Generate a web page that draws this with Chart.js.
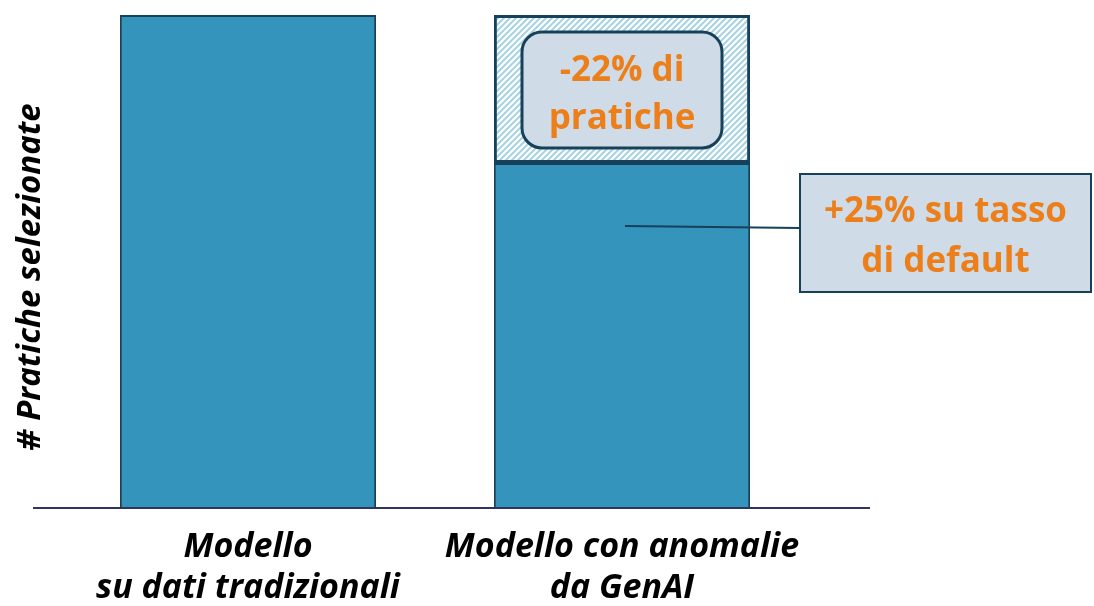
<!DOCTYPE html>
<html>
<head>
<meta charset="utf-8">
<script src="https://cdn.jsdelivr.net/npm/chart.js@4"></script>
<style>
  body { margin: 0; background: #fff; }
  #wrap { width: 1094px; height: 606px; }
</style>
</head>
<body>
<div id="wrap"><canvas id="myChart"></canvas></div>
<script>
// dati del grafico
const categories = [["Modello", "su dati tradizionali"], ["Modello con anomalie", "da GenAI"]];
const baseValues = [100, 70];      // pratiche selezionate (barra piena)
const cutValues = [null, 30];      // parte tratteggiata (pratiche eliminate)
const yAxisTitle = "# Pratiche selezionate";
const noteCut = ["-22% di", "pratiche"];
const noteDefault = ["+25% su tasso", "di default"];

const FONT = "'Open Sans', sans-serif";
const DARK = "#17405a";
const ORANGE = "#ec7f1a";

// tratteggio diagonale
function makeHatch() {
  const c = document.createElement("canvas");
  c.width = 6;
  c.height = 6;
  const g = c.getContext("2d");
  g.fillStyle = "#ffffff";
  g.fillRect(0, 0, 6, 6);
  g.strokeStyle = "#a7d3e4";
  g.lineWidth = 2;
  g.beginPath();
  g.moveTo(-1, 7); g.lineTo(7, -1);
  g.moveTo(-4, 4); g.lineTo(4, -4);
  g.moveTo(2, 10); g.lineTo(10, 2);
  g.stroke();
  return g.createPattern(c, "repeat");
}

function roundBox(ctx, x, y, w, h, r) {
  ctx.beginPath();
  ctx.moveTo(x + r, y);
  ctx.arcTo(x + w, y, x + w, y + h, r);
  ctx.arcTo(x + w, y + h, x, y + h, r);
  ctx.arcTo(x, y + h, x, y, r);
  ctx.arcTo(x, y, x + w, y, r);
  ctx.closePath();
}

// linea base, titolo asse y, riquadri di testo
const extras = {
  id: "extras",
  afterDatasetsDraw(chart) {
    const ctx = chart.ctx;
    const xs = chart.scales.x;
    const ys = chart.scales.y;
    const base = ys.getPixelForValue(0);

    ctx.save();
    // asse orizzontale
    ctx.strokeStyle = "#2e3560";
    ctx.lineWidth = 2;
    ctx.beginPath();
    ctx.moveTo(33, base);
    ctx.lineTo(870, base);
    ctx.stroke();

    // titolo asse y
    ctx.save();
    ctx.translate(31, 277);
    ctx.rotate(-Math.PI / 2);
    ctx.fillStyle = "#000";
    ctx.font = "italic bold 33px " + FONT;
    ctx.textAlign = "center";
    ctx.textBaseline = "middle";
    ctx.fillText(yAxisTitle, 0, 0);
    ctx.restore();

    // riquadro dentro la parte tratteggiata
    const cx = xs.getPixelForValue(1);
    const yTop = ys.getPixelForValue(baseValues[1] + cutValues[1]);
    const yMid = ys.getPixelForValue(baseValues[1]);
    const bw = 200, bh = 116;
    const by = (yTop + yMid) / 2 - bh / 2 + 1;
    roundBox(ctx, cx - bw / 2, by, bw, bh, 20);
    ctx.fillStyle = "#cfdce7";
    ctx.fill();
    ctx.strokeStyle = DARK;
    ctx.lineWidth = 3;
    ctx.stroke();

    ctx.fillStyle = ORANGE;
    ctx.font = "bold 35px " + FONT;
    ctx.textAlign = "center";
    ctx.textBaseline = "middle";
    ctx.fillText(noteCut[0], cx, by + 39);
    ctx.fillText(noteCut[1], cx, by + 87);

    // linea di collegamento + riquadro a destra
    const lx = 800, ly = 174, lw = 291, lh = 118;
    ctx.strokeStyle = DARK;
    ctx.lineWidth = 2;
    ctx.beginPath();
    ctx.moveTo(cx + 3, 226);
    ctx.lineTo(lx, 228);
    ctx.stroke();

    ctx.fillStyle = "#cfdce7";
    ctx.fillRect(lx, ly, lw, lh);
    ctx.strokeRect(lx, ly, lw, lh);
    ctx.fillStyle = ORANGE;
    ctx.fillText(noteDefault[0], lx + lw / 2, ly + 38);
    ctx.fillText(noteDefault[1], lx + lw / 2, ly + 88);
    ctx.restore();
  }
};

const ctx = document.getElementById("myChart").getContext("2d");
const myChart = new Chart(ctx, {
  type: "bar",
  data: {
    labels: categories,
    datasets: [
      {
        data: baseValues,
        backgroundColor: "#3594bb",
        borderColor: DARK,
        borderWidth: 2,
        borderSkipped: "start",
        barPercentage: 0.685,
        categoryPercentage: 1
      },
      {
        data: cutValues,
        backgroundColor: makeHatch(),
        borderColor: DARK,
        borderWidth: 3,
        borderSkipped: false,
        barPercentage: 0.685,
        categoryPercentage: 1
      }
    ]
  },
  options: {
    responsive: true,
    maintainAspectRatio: false,
    animation: false,
    layout: { padding: { top: 15, right: 285, left: 10, bottom: 1 } },
    plugins: { legend: { display: false }, tooltip: { enabled: false } },
    scales: {
      x: {
        stacked: true,
        grid: { display: false },
        border: { display: false },
        afterFit(scale) { scale.height = 97; },
        ticks: {
          color: "#000",
          padding: 11,
          maxRotation: 0,
          autoSkip: false,
          font: { family: FONT, size: 34, weight: "bold", style: "italic", lineHeight: 1.2 }
        }
      },
      y: {
        stacked: true,
        min: 0,
        max: 100,
        grid: { display: false },
        border: { display: false },
        ticks: { display: false },
        afterFit(scale) { scale.width = 51; }
      }
    }
  },
  plugins: [extras]
});
</script>
</body>
</html>
